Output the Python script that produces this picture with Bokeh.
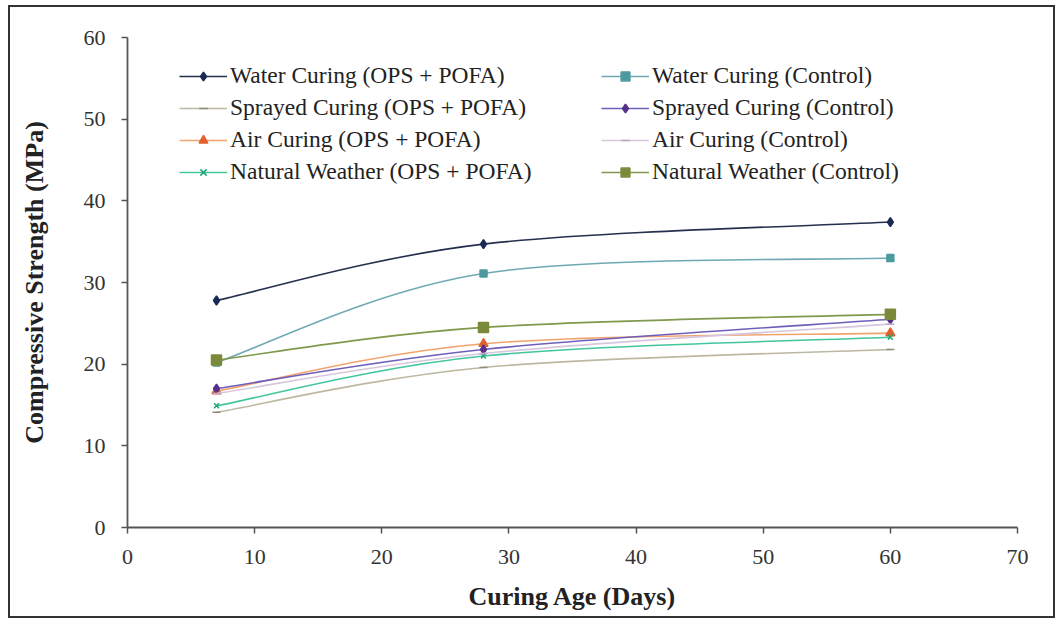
from bokeh.plotting import figure
from bokeh.models import Legend, LegendItem, ColumnDataSource, Range1d, SingleIntervalTicker
from bokeh.embed import file_html
from bokeh.resources import INLINE

# ---- data ----
days = [7, 28, 60]
water_ops = [27.8, 34.7, 37.4]
water_ctrl = [20.2, 31.1, 33.0]
sprayed_ops = [14.1, 19.6, 21.8]
sprayed_ctrl = [17.0, 21.8, 25.5]
air_ops = [16.7, 22.5, 23.8]
air_ctrl = [16.4, 21.3, 24.9]
natural_ops = [14.9, 21.0, 23.3]
natural_ctrl = [20.5, 24.5, 26.1]

labels_ops = ["Water Curing (OPS + POFA)", "Sprayed Curing (OPS + POFA)",
              "Air Curing (OPS + POFA)", "Natural Weather (OPS + POFA)"]
labels_ctrl = ["Water Curing (Control)", "Sprayed Curing (Control)",
               "Air Curing (Control)", "Natural Weather (Control)"]

# (values, line color, marker, marker color, marker size)
ops_series = [
    (water_ops, "#24304e", "diamond", "#1b2a55", 9),
    (sprayed_ops, "#bcb8a2", "dash", "#8f8c77", 8),
    (air_ops, "#f2a46e", "triangle", "#e0602f", 9),
    (natural_ops, "#43c6a0", "x", "#1fa874", 7),
]
ctrl_series = [
    (water_ctrl, "#6fa9b4", "square", "#4d9a9e", 7),
    (sprayed_ctrl, "#6e5fbb", "diamond", "#57308a", 9),
    (air_ctrl, "#d6c6de", "dash", "#bda6cb", 8),
    (natural_ctrl, "#80994c", "square", "#7b8a3a", 10),
]

SERIF = "'Times New Roman', 'Liberation Serif', serif"

W, H = 1047, 613
p = figure(width=W, height=H, output_backend="svg", toolbar_location=None,
           x_range=Range1d(0, 70), y_range=Range1d(0, 60),
           min_border_left=117, min_border_right=40, min_border_top=30, min_border_bottom=93)
p.styles = {"border": "2px solid #333", "box-sizing": "border-box",
            "margin-left": "8px", "margin-top": "5px"}
p.outline_line_color = None
p.xgrid.grid_line_color = None
p.ygrid.grid_line_color = None
p.background_fill_color = "white"
p.border_fill_color = "white"

p.xaxis.ticker = SingleIntervalTicker(interval=10)
p.yaxis.ticker = SingleIntervalTicker(interval=10)
for ax in (p.xaxis, p.yaxis):
    ax.axis_line_color = "#555555"
    ax.axis_line_width = 1.8
    ax.major_tick_line_color = "#555555"
    ax.major_tick_line_width = 1.5
    ax.major_tick_out = 6
    ax.major_tick_in = 0
    ax.minor_tick_line_color = None
    ax.major_label_text_font = SERIF
    ax.major_label_text_font_size = "22px"
    ax.major_label_text_color = "#333333"
    ax.axis_label_text_font = SERIF
    ax.axis_label_text_font_style = "bold"
    ax.axis_label_text_font_size = "26px"
    ax.axis_label_text_color = "#222222"
p.xaxis.axis_label = "Curing Age (Days)"
p.yaxis.axis_label = "Compressive Strength (MPa)"
p.yaxis.major_label_standoff = 16
p.xaxis.major_label_standoff = 16
p.yaxis.axis_label_standoff = 32
p.xaxis.axis_label_standoff = 15


def bezier_source(xs, ys):
    n = len(xs)
    d = dict(x0=[], y0=[], x1=[], y1=[], cx0=[], cy0=[], cx1=[], cy1=[])
    for i in range(n - 1):
        pm = max(i - 1, 0)
        pp = min(i + 2, n - 1)
        d["x0"].append(xs[i]); d["y0"].append(ys[i])
        d["x1"].append(xs[i + 1]); d["y1"].append(ys[i + 1])
        d["cx0"].append(xs[i] + (xs[i + 1] - xs[pm]) / 6)
        d["cy0"].append(ys[i] + (ys[i + 1] - ys[pm]) / 6)
        d["cx1"].append(xs[i + 1] - (xs[pp] - xs[i]) / 6)
        d["cy1"].append(ys[i + 1] - (ys[pp] - ys[i]) / 6)
    return ColumnDataSource(d)


def add_series(vals, lc, marker, mc, ms):
    bz = p.bezier(x0="x0", y0="y0", x1="x1", y1="y1", cx0="cx0", cy0="cy0", cx1="cx1", cy1="cy1",
                  source=bezier_source(days, vals), line_color=lc, line_width=1.6)
    sc = p.scatter(days, vals, marker=marker, size=ms, fill_color=mc, line_color=mc, line_width=1.5)
    return [bz, sc]


items_ops = [LegendItem(label=lab, renderers=add_series(*s)) for lab, s in zip(labels_ops, ops_series)]
items_ctrl = [LegendItem(label=lab, renderers=add_series(*s)) for lab, s in zip(labels_ctrl, ctrl_series)]


def make_legend(items, loc):
    lg = Legend(items=items, location=loc, orientation="vertical")
    lg.label_text_font = SERIF
    lg.label_text_font_size = "23.5px"
    lg.label_text_color = "#222222"
    lg.glyph_width = 48
    lg.glyph_height = 22
    lg.label_height = 22
    lg.spacing = 5
    lg.padding = 0
    lg.margin = 0
    lg.label_standoff = 3
    lg.border_line_color = None
    lg.background_fill_alpha = 0
    return lg


p.add_layout(make_legend(items_ops, (52, 342)), "center")
p.add_layout(make_legend(items_ctrl, (474, 342)), "center")

open("out.html", "w").write(file_html(p, INLINE))
